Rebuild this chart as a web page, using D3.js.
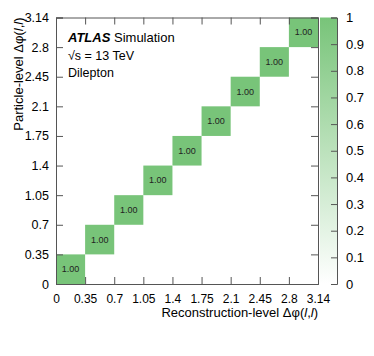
<!DOCTYPE html>
<html>
<head>
<meta charset="utf-8">
<script src="https://cdn.jsdelivr.net/npm/d3@7"></script>
<style>
  body { margin: 0; background: #fff; }
  svg { font-family: "Liberation Sans", Arial, sans-serif; }
</style>
</head>
<body>
<script>
// bin edges shown on both axes
const binEdges = ["0", "0.35", "0.7", "1.05", "1.4", "1.75", "2.1", "2.45", "2.8", "3.14"];
// diagonal cells: reco bin index, particle bin index, value
const recoBin = [0, 1, 2, 3, 4, 5, 6, 7, 8];
const partBin = [0, 1, 2, 3, 4, 5, 6, 7, 8];
const cellValue = [1.00, 1.00, 1.00, 1.00, 1.00, 1.00, 1.00, 1.00, 1.00];
const colorTicks = [0, 0.1, 0.2, 0.3, 0.4, 0.5, 0.6, 0.7, 0.8, 0.9, 1];

(function() {
  const W = 374, H = 356;
  const plotL = 56, plotR = 318, plotT = 17.5, plotB = 284;
  const nBins = binEdges.length - 1;

  const svg = d3.select("body").append("svg").attr("width", W).attr("height", H);

  const x = d3.scaleLinear().domain([0, nBins]).range([plotL, plotR]);
  const y = d3.scaleLinear().domain([0, nBins]).range([plotB, plotT]);
  const color = d3.scaleLinear().domain([0, 1]).range(["#ffffff", "#78c479"]);

  // cells
  const cells = recoBin.map((r, i) => ({ r: r, p: partBin[i], v: cellValue[i] }));
  svg.selectAll(".cell").data(cells).enter().append("rect")
    .attr("x", d => x(d.r))
    .attr("y", d => y(d.p + 1))
    .attr("width", d => x(d.r + 1) - x(d.r))
    .attr("height", d => y(d.p) - y(d.p + 1))
    .attr("fill", d => color(d.v));

  svg.selectAll(".cellText").data(cells).enter().append("text")
    .attr("x", d => (x(d.r) + x(d.r + 1)) / 2)
    .attr("y", d => (y(d.p) + y(d.p + 1)) / 2 + 3)
    .attr("text-anchor", "middle")
    .style("font-size", "9px")
    .attr("fill", "#222")
    .text(d => d.v.toFixed(2));

  // axes: ticks inward on all four sides
  const idx = d3.range(binEdges.length);
  const tickLen = 7;
  svg.append("g").attr("transform", `translate(0,${plotB})`)
    .call(d3.axisBottom(x).tickValues(idx).tickSize(-tickLen).tickPadding(10)
      .tickFormat(i => binEdges[i]))
    .call(g => g.selectAll("text").style("font-size", "12px").attr("fill", "#000"));
  svg.append("g").attr("transform", `translate(0,${plotT})`)
    .call(d3.axisTop(x).tickValues(idx).tickSize(-tickLen).tickFormat(""));
  svg.append("g").attr("transform", `translate(${plotL},0)`)
    .call(d3.axisLeft(y).tickValues(idx).tickSize(-tickLen).tickPadding(7)
      .tickFormat(i => binEdges[i]))
    .call(g => g.selectAll("text").style("font-size", "12.5px").attr("fill", "#000"));
  svg.append("g").attr("transform", `translate(${plotR},0)`)
    .call(d3.axisRight(y).tickValues(idx).tickSize(-tickLen).tickFormat(""));

  svg.selectAll(".domain").attr("stroke", "#555");
  svg.selectAll(".tick line").attr("stroke", "#555");

  // colour bar
  const cbL = 320, cbR = 337;
  const cy = d3.scaleLinear().domain([0, 1]).range([plotB, plotT]);
  const grad = svg.append("defs").append("linearGradient")
    .attr("id", "cbGrad").attr("x1", 0).attr("y1", 1).attr("x2", 0).attr("y2", 0);
  grad.append("stop").attr("offset", "0%").attr("stop-color", color(0));
  grad.append("stop").attr("offset", "100%").attr("stop-color", color(1));
  svg.append("rect")
    .attr("x", cbL).attr("y", cy(1))
    .attr("width", cbR - cbL).attr("height", cy(0) - cy(1))
    .attr("fill", "url(#cbGrad)");
  const cbAxis = svg.append("g").attr("transform", `translate(${cbR},0)`)
    .call(d3.axisRight(cy).tickValues(colorTicks).tickSize(-6).tickPadding(9)
      .tickFormat(d3.format("")));
  cbAxis.selectAll("text").style("font-size", "13px").attr("fill", "#000");
  cbAxis.select(".domain").attr("stroke", "#555");
  cbAxis.selectAll(".tick line").attr("stroke", "#555");

  // axis titles
  const xt = svg.append("text").attr("x", plotR).attr("y", 317)
    .attr("text-anchor", "end").style("font-size", "13px");
  xt.append("tspan").text("Reconstruction-level Δφ(");
  xt.append("tspan").style("font-style", "italic").text("l");
  xt.append("tspan").text(",");
  xt.append("tspan").style("font-style", "italic").text("l");
  xt.append("tspan").text(")");

  const yt = svg.append("text").attr("transform", `translate(23,${plotT}) rotate(-90)`)
    .attr("text-anchor", "end").style("font-size", "13px");
  yt.append("tspan").text("Particle-level Δφ(");
  yt.append("tspan").style("font-style", "italic").text("l");
  yt.append("tspan").text(",");
  yt.append("tspan").style("font-style", "italic").text("l");
  yt.append("tspan").text(")");

  // labels
  const lab = svg.append("text").attr("x", 68).attr("y", 42).style("font-size", "13px");
  lab.append("tspan").style("font-weight", "bold").style("font-style", "italic").text("ATLAS");
  lab.append("tspan").text(" Simulation");
  svg.append("text").attr("x", 68).attr("y", 60).style("font-size", "12.5px").text("√s = 13 TeV");
  svg.append("text").attr("x", 68).attr("y", 77).style("font-size", "12.5px").text("Dilepton");
})();
</script>
</body>
</html>
